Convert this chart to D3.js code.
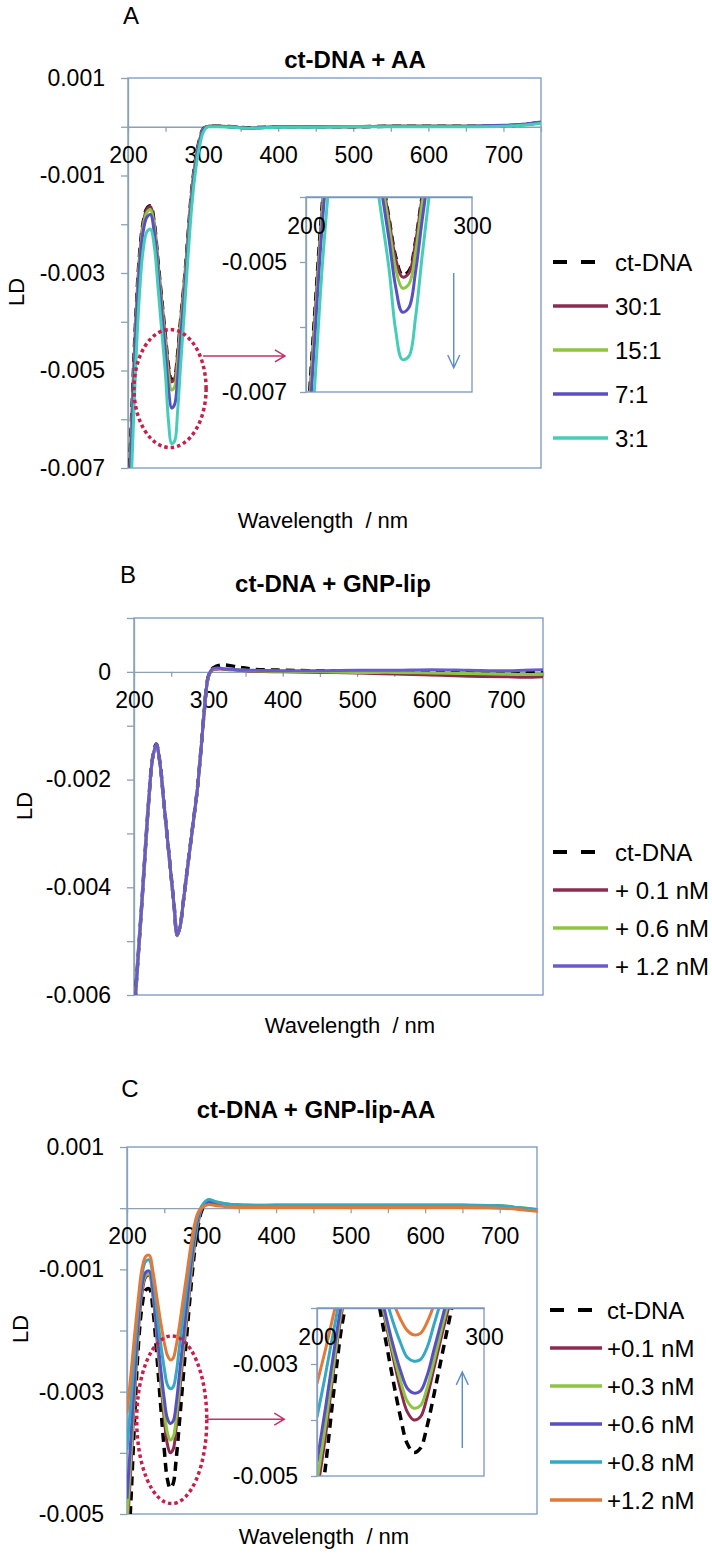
<!DOCTYPE html>
<html>
<head>
<meta charset="utf-8">
<script src="https://cdn.jsdelivr.net/npm/d3@7/dist/d3.min.js"></script>
<style>
  body { margin: 0; background: #fff; }
  svg text { font-family: "Liberation Sans", Arial, sans-serif; fill: #000; }
</style>
</head>
<body>
<div id="chart"></div>
<script>
// wavelength grid (nm), LD values below are in units of 10^-3
const wl = [200, 205, 210, 215, 220, 225, 230, 235, 240, 245, 250, 254, 258, 262, 266, 270, 275, 280, 285, 290,
            295, 300, 305, 310, 320, 340, 360, 400, 450, 500, 550, 600, 650, 700, 725, 750];

const xTicks = [200, 250, 300, 350, 400, 450, 500, 550, 600, 650, 700, 750];
const xTickLabels = [200, 300, 400, 500, 600, 700];

// ---- A: ct-DNA + AA
const namesA = ["ct-DNA", "30:1", "15:1", "7:1", "3:1"];
const a_ct  = [-7.9, -5.9, -4.05, -2.7, -1.98, -1.68, -1.62, -1.98, -2.78, -3.55, -4.33, -4.92, -5.2, -5.14, -4.68, -3.98, -3.18, -2.22, -1.28, -0.68,
               -0.28, -0.05, 0.0, 0.01, 0.01, 0.0, -0.02, 0.0, 0.0, 0.0, 0.01, 0.01, 0.01, 0.02, 0.04, 0.09];
const a_30  = [-8.0, -6.0, -4.1, -2.75, -2.0, -1.7, -1.64, -2.0, -2.8, -3.58, -4.35, -4.95, -5.23, -5.17, -4.7, -4.0, -3.2, -2.24, -1.3, -0.7,
               -0.3, -0.06, 0.0, 0.01, 0.01, 0.0, -0.03, 0.0, 0.0, 0.0, 0.01, 0.01, 0.01, 0.02, 0.04, 0.09];
const a_15  = [-8.1, -6.1, -4.2, -2.82, -2.06, -1.76, -1.7, -2.06, -2.88, -3.66, -4.45, -5.1, -5.4, -5.34, -4.85, -4.1, -3.28, -2.3, -1.34, -0.72,
               -0.31, -0.06, 0.0, 0.01, 0.01, 0.0, -0.03, 0.0, 0.0, 0.0, 0.01, 0.01, 0.01, 0.02, 0.04, 0.09];
const a_7   = [-8.3, -6.3, -4.35, -2.95, -2.17, -1.86, -1.8, -2.18, -3.0, -3.82, -4.65, -5.38, -5.77, -5.7, -5.15, -4.35, -3.42, -2.4, -1.42, -0.76,
               -0.33, -0.07, 0.0, 0.01, 0.01, 0.0, -0.03, 0.0, 0.0, 0.0, 0.01, 0.01, 0.01, 0.03, 0.05, 0.1];
const a_3   = [-8.8, -7.0, -5.0, -3.5, -2.55, -2.16, -2.1, -2.45, -3.3, -4.2, -5.1, -6.05, -6.5, -6.45, -5.85, -4.9, -3.8, -2.65, -1.62, -0.9,
               -0.42, -0.12, -0.01, 0.0, 0.0, -0.01, -0.03, -0.01, -0.01, 0.0, 0.0, 0.0, 0.0, 0.01, 0.03, 0.07];
const yTicksA = [-7, -6, -5, -4, -3, -2, -1, 0, 1];
const yLabelsA = [-7, -5, -3, -1, 1];

// ---- B: ct-DNA + GNP-lip
const namesB = ["ct-DNA", "+ 0.1 nM", "+ 0.6 nM", "+ 1.2 nM"];
const b_ct  = [-6.4, -5.4, -4.4, -3.35, -2.35, -1.6, -1.34, -1.7, -2.4, -3.1, -3.8, -4.35, -4.88, -4.72, -4.3, -3.85, -3.3, -2.75, -2.2, -1.45,
               -0.65, -0.08, 0.06, 0.1, 0.13, 0.09, 0.05, 0.03, 0.02, 0.02, 0.01, 0.01, 0.0, 0.0, 0.0, 0.01];
const b_01  = [-6.42, -5.42, -4.42, -3.37, -2.37, -1.62, -1.36, -1.72, -2.42, -3.12, -3.82, -4.37, -4.9, -4.74, -4.32, -3.87, -3.32, -2.77, -2.22, -1.47,
               -0.67, -0.1, 0.03, 0.05, 0.05, 0.03, 0.01, 0.0, -0.01, -0.02, -0.04, -0.06, -0.08, -0.09, -0.1, -0.09];
const b_06  = [-6.41, -5.41, -4.41, -3.36, -2.36, -1.61, -1.35, -1.71, -2.41, -3.11, -3.81, -4.36, -4.89, -4.73, -4.31, -3.86, -3.31, -2.76, -2.21, -1.46,
               -0.66, -0.09, 0.04, 0.06, 0.06, 0.04, 0.02, 0.01, 0.0, -0.01, -0.01, -0.02, -0.03, -0.04, -0.05, -0.04];
const b_12  = [-6.4, -5.4, -4.4, -3.35, -2.35, -1.6, -1.34, -1.7, -2.4, -3.1, -3.8, -4.35, -4.88, -4.72, -4.3, -3.85, -3.3, -2.75, -2.2, -1.45,
               -0.65, -0.08, 0.05, 0.07, 0.06, 0.04, 0.03, 0.02, 0.02, 0.03, 0.03, 0.04, 0.03, 0.02, 0.03, 0.04];
const yTicksB = [-6, -5, -4, -3, -2, -1, 0, 1];
const yLabelsB = [-6, -4, -2, 0];

// ---- C: ct-DNA + GNP-lip-AA
const namesC = ["ct-DNA", "+0.1 nM", "+0.3 nM", "+0.6 nM", "+0.8 nM", "+1.2 nM"];
const c_ct  = [-6.0, -4.85, -3.5, -2.3, -1.62, -1.34, -1.32, -1.68, -2.4, -3.2, -3.95, -4.42, -4.58, -4.5, -4.1, -3.55, -2.82, -2.1, -1.4, -0.78,
               -0.32, -0.05, 0.06, 0.09, 0.07, 0.05, 0.04, 0.04, 0.04, 0.04, 0.04, 0.04, 0.04, 0.03, 0.0, -0.03];
const c_01  = [-5.3, -4.3, -3.1, -2.05, -1.4, -1.13, -1.1, -1.45, -2.1, -2.8, -3.45, -3.85, -4.0, -3.94, -3.58, -3.08, -2.45, -1.85, -1.22, -0.66,
               -0.26, -0.03, 0.07, 0.11, 0.08, 0.05, 0.04, 0.04, 0.04, 0.04, 0.04, 0.04, 0.04, 0.03, 0.0, -0.03];
const c_03  = [-5.1, -4.1, -3.0, -1.97, -1.32, -1.1, -1.08, -1.4, -2.05, -2.72, -3.3, -3.66, -3.79, -3.74, -3.42, -2.95, -2.33, -1.75, -1.14, -0.6,
               -0.22, 0.0, 0.09, 0.13, 0.1, 0.06, 0.05, 0.05, 0.05, 0.05, 0.05, 0.05, 0.05, 0.04, 0.01, -0.02];
const c_06  = [-4.75, -3.8, -2.8, -1.87, -1.27, -1.05, -1.03, -1.35, -1.98, -2.6, -3.12, -3.43, -3.52, -3.48, -3.2, -2.75, -2.18, -1.6, -1.02, -0.52,
               -0.18, 0.0, 0.08, 0.11, 0.08, 0.05, 0.04, 0.04, 0.04, 0.04, 0.04, 0.04, 0.04, 0.03, 0.0, -0.03];
const c_08  = [-3.95, -3.2, -2.4, -1.65, -1.1, -0.87, -0.85, -1.15, -1.68, -2.2, -2.62, -2.88, -2.95, -2.92, -2.7, -2.3, -1.8, -1.3, -0.82, -0.4,
               -0.12, 0.03, 0.11, 0.14, 0.1, 0.06, 0.05, 0.05, 0.05, 0.05, 0.05, 0.05, 0.05, 0.04, 0.01, -0.02];
const c_12  = [-3.35, -2.75, -2.1, -1.5, -1.0, -0.79, -0.77, -1.05, -1.45, -1.85, -2.2, -2.4, -2.48, -2.45, -2.25, -1.95, -1.52, -1.1, -0.67, -0.3,
               -0.08, 0.0, 0.04, 0.06, 0.04, 0.02, 0.01, 0.01, 0.01, 0.01, 0.01, 0.01, 0.01, 0.0, -0.02, -0.05];
const yTicksC = [-5, -4, -3, -2, -1, 0, 1];
const yLabelsC = [-5, -3, -1, 1];

// inset ticks
const insetXLabels = [200, 300];
const insetTicksA = [-7, -6, -5, -4];
const insetLabelsA = [-7, -5];
const insetTicksC = [-5, -4, -3, -2];
const insetLabelsC = [-5, -3];

const font = '"Liberation Sans", Arial, sans-serif';
const borderColor = "#7896c0";
const axisColor = "#8aa2b3";
const markColor = "#c71e4a";
const arrowBlue = "#5b8ec6";

const svg = d3.select("#chart").append("svg")
    .attr("width", 712)
    .attr("height", 1558);

const fmtLD = v => v === 0 ? "0" : (v / 1000).toFixed(3);

const panels = [
    {
        id: "A", letter: "A", title: "ct-DNA + AA",
        left: 128, right: 541, top: 78, bottom: 468, yDomain: [-7, 1],
        yTicks: yTicksA, yLabels: yLabelsA,
        names: namesA, values: [a_ct, a_30, a_15, a_7, a_3],
        colors: ["#000000", "#8e2a50", "#8cc63f", "#5a4fc2", "#46cdb8"],
        letterPos: [131, 24], titlePos: [355, 68], xTitlePos: [323, 528], ldPos: [16, 292],
        legend: { x1: 553, x2: 608, tx: 615, y0: 262, dy: 44 },
        inset: { left: 306, right: 472, top: 197, bottom: 392, yDomain: [-7, -4],
                 yTicks: insetTicksA, yLabels: insetLabelsA, arrowX: 289, arrowFrom: -5.17, arrowTo: -6.63 },
        ellipse: { cx: 256, cy: -5.37, rx: 48, ry: 1.21 },
        pointer: { from: 300, to: 409, at: -4.7 }
    },
    {
        id: "B", letter: "B", title: "ct-DNA + GNP-lip",
        left: 134, right: 543, top: 618, bottom: 995, yDomain: [-6, 1],
        yTicks: yTicksB, yLabels: yLabelsB,
        names: namesB, values: [b_ct, b_01, b_06, b_12],
        colors: ["#000000", "#8e2a50", "#8cc63f", "#6a5bcc"],
        letterPos: [128, 583], titlePos: [333, 592], xTitlePos: [350, 1033], ldPos: [24, 806],
        legend: { x1: 553, x2: 608, tx: 615, y0: 852, dy: 38 }
    },
    {
        id: "C", letter: "C", title: "ct-DNA + GNP-lip-AA",
        left: 127, right: 537, top: 1147, bottom: 1514, yDomain: [-5, 1],
        yTicks: yTicksC, yLabels: yLabelsC,
        names: namesC, values: [c_ct, c_01, c_03, c_06, c_08, c_12],
        colors: ["#000000", "#8e2a50", "#8cc63f", "#5a4fc2", "#35a8c2", "#e2793a"],
        letterPos: [130, 1097], titlePos: [316, 1118], xTitlePos: [324, 1544], ldPos: [20, 1329],
        legend: { x1: 550, x2: 602, tx: 607, y0: 1310, dy: 38 },
        inset: { left: 317, right: 484, top: 1308, bottom: 1476, yDomain: [-5, -2],
                 yTicks: insetTicksC, yLabels: insetLabelsC, arrowX: 287, arrowFrom: -4.5, arrowTo: -3.14 },
        ellipse: { cx: 260, cy: -3.46, rx: 47, ry: 1.37 },
        pointer: { from: 307, to: 411, at: -3.45 }
    }
];

function styleAxis(g) {
    g.attr("font-size", 23).attr("font-family", font);
    g.select(".domain").attr("stroke", axisColor).attr("stroke-width", 1.3);
    g.selectAll(".tick line").attr("stroke", axisColor).attr("stroke-width", 1.3);
    g.selectAll(".tick text").attr("fill", "#000");
}

function drawSeries(p, x, y, clipId) {
    const line = d3.line()
        .x((d, i) => x(wl[i]))
        .y(d => y(d))
        .curve(d3.curveCatmullRom.alpha(0.5));
    const g = svg.append("g").attr("clip-path", `url(#${clipId})`);
    p.values.forEach((vals, i) => {
        g.append("path")
            .attr("d", line(vals))
            .attr("fill", "none")
            .attr("stroke", p.colors[i])
            .attr("stroke-width", i === 0 ? 3.5 : 3)
            .attr("stroke-dasharray", i === 0 ? "9,6" : null)
            .attr("stroke-linejoin", "round");
    });
}

function drawPanel(p) {
    const x = d3.scaleLinear().domain([200, 750]).range([p.left, p.right]);
    const y = d3.scaleLinear().domain(p.yDomain).range([p.bottom, p.top]);

    const clipId = "clip" + p.id;
    svg.append("clipPath").attr("id", clipId).append("rect")
        .attr("x", p.left).attr("y", p.top)
        .attr("width", p.right - p.left).attr("height", p.bottom - p.top);

    svg.append("rect")
        .attr("x", p.left).attr("y", p.top)
        .attr("width", p.right - p.left).attr("height", p.bottom - p.top)
        .attr("fill", "none").attr("stroke", borderColor).attr("stroke-width", 1.3);

    // y axis
    svg.append("g")
        .attr("transform", `translate(${p.left},0)`)
        .call(d3.axisLeft(y).tickValues(p.yTicks).tickSize(7).tickSizeOuter(0).tickPadding(16)
            .tickFormat(v => p.yLabels.includes(v) ? fmtLD(v) : ""))
        .call(styleAxis);

    // x axis crossing at LD = 0
    svg.append("g")
        .attr("transform", `translate(0,${y(0)})`)
        .call(d3.axisBottom(x).tickValues(xTicks).tickSize(5).tickSizeOuter(0).tickPadding(15)
            .tickFormat(v => xTickLabels.includes(v) ? String(v) : ""))
        .call(styleAxis);

    drawSeries(p, x, y, clipId);

    // titles
    svg.append("text").attr("x", p.letterPos[0]).attr("y", p.letterPos[1])
        .attr("text-anchor", "middle").attr("font-size", 24).text(p.letter);
    svg.append("text").attr("x", p.titlePos[0]).attr("y", p.titlePos[1])
        .attr("text-anchor", "middle").attr("font-size", 24).attr("font-weight", "bold").text(p.title);
    svg.append("text").attr("x", p.xTitlePos[0]).attr("y", p.xTitlePos[1])
        .attr("text-anchor", "middle").attr("font-size", 22)
        .style("white-space", "pre").text("Wavelength  / nm");
    svg.append("text")
        .attr("transform", `translate(${p.ldPos[0]},${p.ldPos[1]}) rotate(-90)`)
        .attr("text-anchor", "middle").attr("dominant-baseline", "central")
        .attr("font-size", 22).text("LD");

    // legend
    const lg = p.legend;
    p.names.forEach((name, i) => {
        const yy = lg.y0 + i * lg.dy;
        svg.append("line")
            .attr("x1", lg.x1).attr("x2", i === 0 ? lg.x1 + 42 : lg.x2)
            .attr("y1", yy).attr("y2", yy)
            .attr("stroke", p.colors[i]).attr("stroke-width", i === 0 ? 4 : 3.5)
            .attr("stroke-dasharray", i === 0 ? "14,14" : null);
        svg.append("text").attr("x", lg.tx).attr("y", yy)
            .attr("dominant-baseline", "central").attr("font-size", 24).text(name);
    });

    if (p.inset) drawInset(p, x, y);
}

function drawInset(p, x, y) {
    const b = p.inset;
    const xi = d3.scaleLinear().domain([200, 300]).range([b.left, b.right]);
    const yi = d3.scaleLinear().domain(b.yDomain).range([b.bottom, b.top]);
    const clipId = "clipInset" + p.id;
    svg.append("clipPath").attr("id", clipId).append("rect")
        .attr("x", b.left).attr("y", b.top)
        .attr("width", b.right - b.left).attr("height", b.bottom - b.top);

    svg.append("rect")
        .attr("x", b.left).attr("y", b.top)
        .attr("width", b.right - b.left).attr("height", b.bottom - b.top)
        .attr("fill", "#fff");

    drawSeries(p, xi, yi, clipId);

    svg.append("rect")
        .attr("x", b.left).attr("y", b.top)
        .attr("width", b.right - b.left).attr("height", b.bottom - b.top)
        .attr("fill", "none").attr("stroke", borderColor).attr("stroke-width", 1.3);

    svg.append("g")
        .attr("transform", `translate(${b.left},0)`)
        .call(d3.axisLeft(yi).tickValues(b.yTicks).tickSize(6).tickSizeOuter(0).tickPadding(13)
            .tickFormat(v => b.yLabels.includes(v) ? fmtLD(v) : ""))
        .call(styleAxis);

    const gx = svg.append("g")
        .attr("transform", `translate(0,${b.top})`)
        .call(d3.axisBottom(xi).tickValues(insetXLabels).tickSize(0).tickPadding(21)
            .tickFormat(v => String(v)))
        .call(styleAxis);
    gx.select(".domain").attr("stroke", borderColor);

    // blue trend arrow inside the inset
    const ax = xi(b.arrowX), y1 = yi(b.arrowFrom), y2 = yi(b.arrowTo);
    const dir = y2 > y1 ? 1 : -1;
    svg.append("path")
        .attr("d", `M${ax},${y1}L${ax},${y2}M${ax - 6},${y2 - dir * 13}L${ax},${y2}L${ax + 6},${y2 - dir * 13}`)
        .attr("fill", "none").attr("stroke", arrowBlue).attr("stroke-width", 1.4);

    // dotted ellipse in the main plot and pointer to the inset
    const e = p.ellipse;
    svg.append("ellipse")
        .attr("cx", x(e.cx)).attr("cy", y(e.cy))
        .attr("rx", x(e.cx + e.rx) - x(e.cx))
        .attr("ry", y(e.cy - e.ry) - y(e.cy))
        .attr("fill", "none").attr("stroke", markColor)
        .attr("stroke-width", 3.5).attr("stroke-dasharray", "3.5,3");

    const pt = p.pointer;
    const px1 = x(pt.from), px2 = x(pt.to), py = y(pt.at);
    svg.append("path")
        .attr("d", `M${px1},${py}L${px2},${py}M${px2 - 10},${py - 6}L${px2},${py}L${px2 - 10},${py + 6}`)
        .attr("fill", "none").attr("stroke", "#c4306a").attr("stroke-width", 1.5);
}

panels.forEach(drawPanel);
</script>
</body>
</html>
